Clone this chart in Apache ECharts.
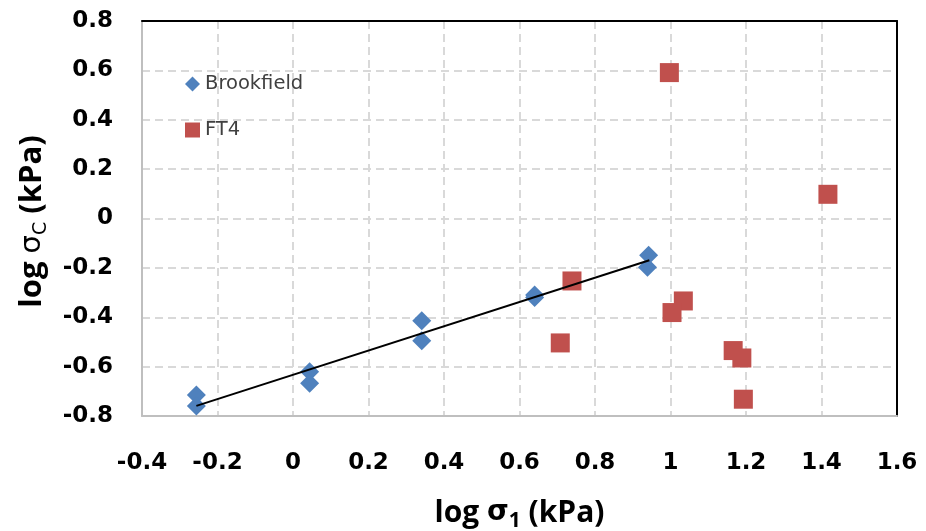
<!DOCTYPE html>
<html><head><meta charset="utf-8">
<script src="https://cdn.jsdelivr.net/npm/echarts@6/dist/echarts.min.js"></script>
<style>html,body{margin:0;padding:0;background:#fff}#c{width:926px;height:531px}</style>
</head><body><div id="c"></div>
<script>
// Data
const brookfieldX = [-0.256, -0.256, 0.044, 0.044, 0.341, 0.341, 0.640, 0.640, 0.942, 0.939];
const brookfieldY = [-0.715, -0.759, -0.621, -0.667, -0.414, -0.495, -0.310, -0.320, -0.149, -0.197];
const ft4X = [0.997, 1.417, 0.739, 0.708, 1.034, 1.004, 1.166, 1.189, 1.193];
const ft4Y = [0.591, 0.098, -0.253, -0.504, -0.334, -0.381, -0.535, -0.565, -0.732];
const trendX = [-0.256, 0.944];
const trendY = [-0.759, -0.169];
const xRange = [-0.4, 1.6];
const yRange = [-0.8, 0.8];
const tickStep = 0.2;

const zip = (a, b) => a.map((v, i) => [v, b[i]]);
const fmt = v => String(Number(v.toFixed(1)));
const tickFont = {fontFamily: 'DejaVu Sans', fontWeight: 'bold', fontSize: 23, color: '#000'};
const grid = {lineStyle: {color: '#d9d9d9', width: 2, type: [8, 5]}};

const chart = echarts.init(document.getElementById('c'), null, {renderer: 'canvas'});
chart.setOption({
  animation: false,
  backgroundColor: '#fff',
  grid: {left: 142, top: 21, right: 29, bottom: 115, containLabel: false, outerBoundsMode: 'none'},
  legend: {
    orient: 'vertical', left: 180, top: 69, itemWidth: 15, itemHeight: 15, itemGap: 26,
    textStyle: {fontFamily: 'DejaVu Sans', fontSize: 19.5, color: '#404040'},
    data: [{name: 'Brookfield', icon: 'diamond'}, {name: 'FT4', icon: 'rect'}]
  },
  xAxis: [{
    type: 'value', min: xRange[0], max: xRange[1], interval: tickStep,
    axisLine: {onZero: false, lineStyle: {color: '#bfbfbf', width: 2}}, axisTick: {show: false},
    axisLabel: Object.assign({margin: 36, formatter: fmt}, tickFont),
    splitLine: grid,
    name: '{t|log }{s|σ}{sub|1}{t| (kPa)}', nameLocation: 'middle', nameGap: 78,
    nameTextStyle: {
      rich: {
        t: {fontFamily: 'Open Sans', fontWeight: 'bold', fontSize: 30, lineHeight: 38, color: '#000'},
        s: {fontFamily: 'DejaVu Sans', fontWeight: 'bold', fontSize: 28, lineHeight: 38, color: '#000'},
        sub: {fontFamily: 'Open Sans', fontWeight: 'bold', fontSize: 21, lineHeight: 21, verticalAlign: 'bottom', color: '#000'}
      }
    }
  }, {
    type: 'value', position: 'top', min: xRange[0], max: xRange[1], interval: tickStep,
    axisLine: {show: true, onZero: false, lineStyle: {color: '#000', width: 2}},
    axisTick: {show: false}, axisLabel: {show: false}, splitLine: {show: false}
  }],
  yAxis: [{
    type: 'value', min: yRange[0], max: yRange[1], interval: tickStep,
    axisLine: {show: true, onZero: false, lineStyle: {color: '#bfbfbf', width: 2}}, axisTick: {show: false},
    axisLabel: Object.assign({margin: 29, formatter: fmt}, tickFont),
    splitLine: grid,
    name: '{t|log }{s|σ}{sub|C}{t| (kPa)}', nameLocation: 'middle', nameGap: 91, nameRotate: 90,
    nameTextStyle: {
      padding: [0, 6, 0, 0],
      rich: {
        t: {fontFamily: 'Open Sans', fontWeight: 'bold', fontSize: 31, lineHeight: 38, color: '#000'},
        s: {fontFamily: 'DejaVu Sans', fontWeight: 'normal', fontSize: 29, lineHeight: 38, color: '#000'},
        sub: {fontFamily: 'DejaVu Sans', fontWeight: 'normal', fontSize: 19, lineHeight: 19, verticalAlign: 'bottom', color: '#000'}
      }
    }
  }, {
    type: 'value', position: 'right', min: yRange[0], max: yRange[1], interval: tickStep,
    axisLine: {show: true, onZero: false, lineStyle: {color: '#000', width: 2}},
    axisTick: {show: false}, axisLabel: {show: false}, splitLine: {show: false}
  }],
  series: [{
    name: 'Brookfield', type: 'scatter', symbol: 'diamond', symbolSize: 19,
    itemStyle: {color: '#4F81BD', opacity: 1}, data: zip(brookfieldX, brookfieldY), z: 3
  }, {
    name: 'FT4', type: 'scatter', symbol: 'rect', symbolSize: 19,
    itemStyle: {color: '#C0504D', opacity: 1}, data: zip(ft4X, ft4Y), z: 3
  }, {
    name: 'trend', type: 'line', symbol: 'none', data: zip(trendX, trendY),
    lineStyle: {color: '#000', width: 2}, z: 5
  }]
});
</script></body></html>
